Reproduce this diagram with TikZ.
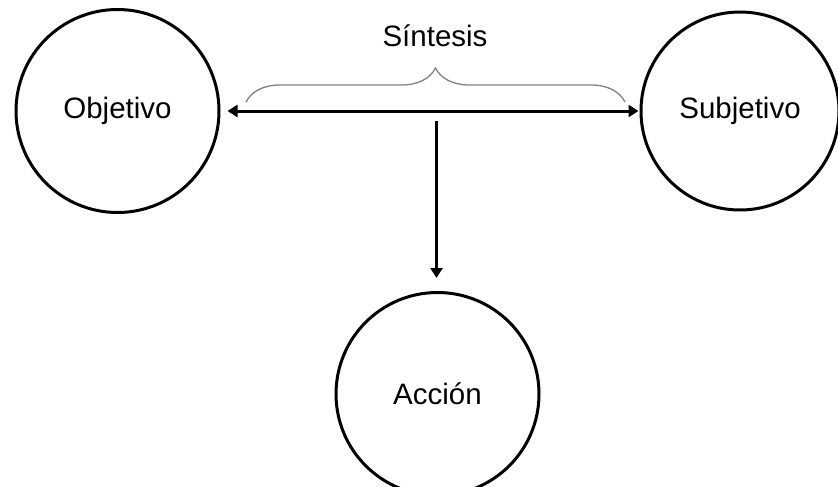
\documentclass[tikz,border=0pt]{standalone}
\usepackage{fontspec}
\setmainfont{Liberation Sans}
\usetikzlibrary{arrows.meta,decorations.pathreplacing}
\tikzset{
  idea/.style={circle,draw,line width=3pt,minimum size=203pt,inner sep=0pt,font=\fontsize{29.5}{34}\selectfont},
  flecha/.style={line width=3pt,-{Triangle[length=10pt,width=12pt]}},
}
\begin{document}
\begin{tikzpicture}[x=1pt,y=-1pt]
    \useasboundingbox (0,0) rectangle (838,487);
    % The three poles
    \node[idea] (obj) at (117.5,111) {Objetivo};
    \node[idea,minimum size=198pt] (subj) at (740,111) {Subjetivo};
    \node[idea] (accion) at (437.5,394) {Acción};
    % Synthesis between them
    \draw[flecha,{Triangle[length=10pt,width=12pt]}-{Triangle[length=10pt,width=12pt]},shorten <=7pt,shorten >=1pt] (obj) -- (subj);
    \draw[gray,line width=1.3pt,decorate,decoration={brace,amplitude=34pt}] (246,102) -- (625,102);
    \node[font=\fontsize{29.5}{34}\selectfont] (sintesis) at (435,36) {Síntesis};
    % Down to action
    \coordinate (mid) at (436.5,121);
    \draw[flecha,shorten >=13pt] (mid) -- (mid |- accion.north);
\end{tikzpicture}
\end{document}
